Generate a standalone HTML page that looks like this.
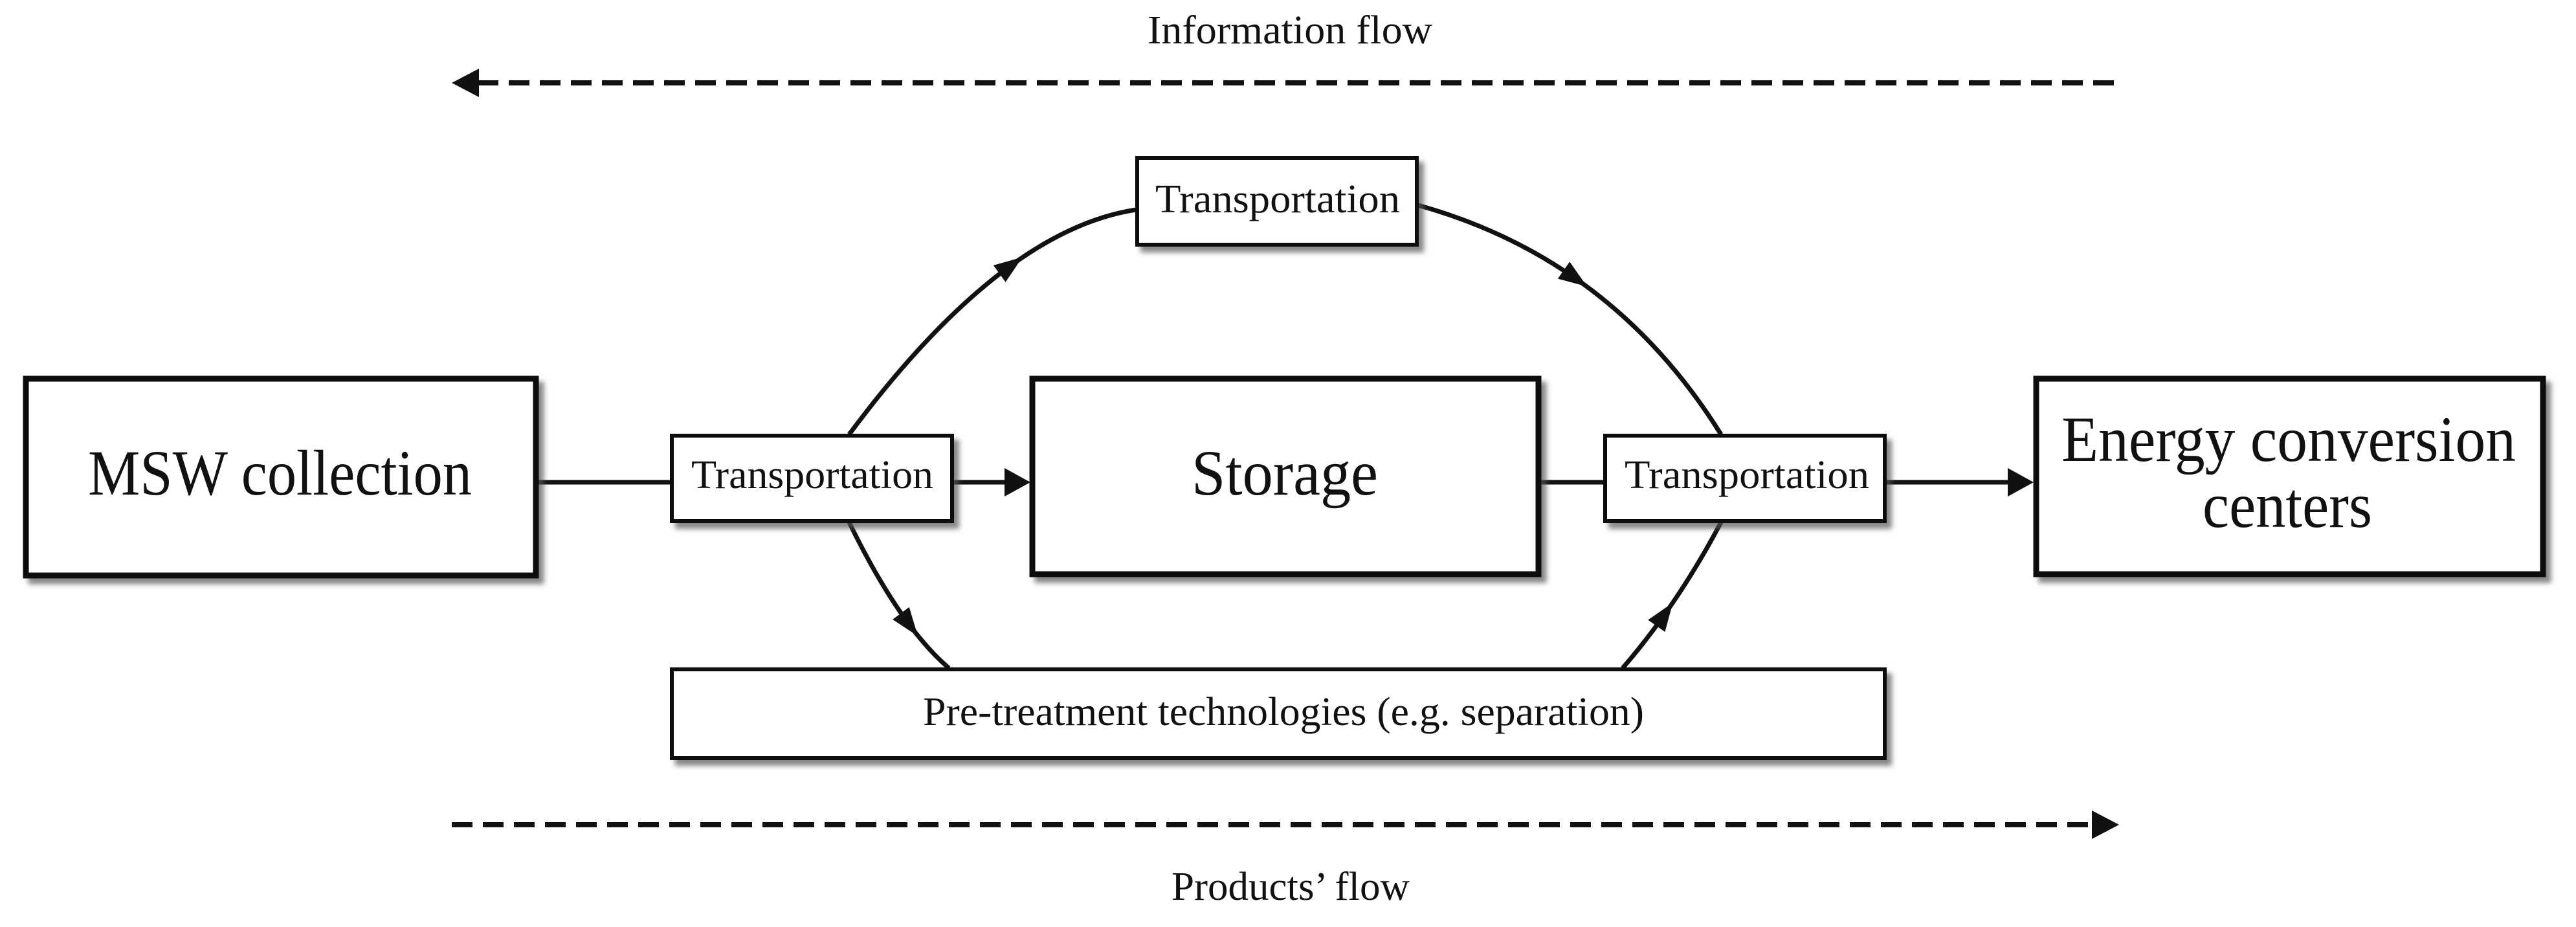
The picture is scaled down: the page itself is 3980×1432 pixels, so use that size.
<!DOCTYPE html>
<html><head><meta charset="utf-8"><style>
html,body{margin:0;padding:0;background:#fff;}
svg{display:block;}
text{font-family:"Liberation Serif",serif;fill:#111;}
</style></head><body>
<svg width="3980" height="1432" viewBox="0 0 3980 1432" xmlns="http://www.w3.org/2000/svg">
<defs>
<filter id="sh" x="-10%" y="-10%" width="130%" height="130%">
<feDropShadow dx="8" dy="9" stdDeviation="4" flood-color="#555" flood-opacity="0.7"/>
</filter>
<marker id="ah" markerUnits="userSpaceOnUse" viewBox="0 0 44 32" markerWidth="44" markerHeight="32" refX="22" refY="16" orient="auto">
<path d="M0 0 L44 16 L0 32 z" fill="#111"/>
</marker>
</defs>

<!-- Information flow -->
<text x="1773" y="67" font-size="62" textLength="440" lengthAdjust="spacingAndGlyphs">Information flow</text>
<line x1="738" y1="128" x2="3274" y2="128" stroke="#111" stroke-width="8" stroke-dasharray="32 16"/>
<polygon points="698,128 740,106 740,150" fill="#111"/>

<!-- connectors -->
<g stroke="#111" stroke-width="7" fill="none">
<line x1="830" y1="745" x2="1036" y2="745"/>
<line x1="1473" y1="745" x2="1560" y2="745"/>
<line x1="2379" y1="745" x2="2478" y2="745"/>
<line x1="2914" y1="745" x2="3110" y2="745"/>
<path d="M1312 671 Q1440.7 497.8 1562 410" marker-end="url(#ah)"/>
<path d="M1562 410 Q1661 338.4 1755 324"/>
<path d="M2191 317 Q2325.6 354.4 2434 430" marker-end="url(#ah)"/>
<path d="M2434 430 Q2566 522 2659 671"/>
<path d="M1312 807 Q1358.8 903 1405 965" marker-end="url(#ah)"/>
<path d="M1405 965 Q1435.6 1006 1466 1032"/>
<path d="M2507 1032 Q2541 992.8 2572 949" marker-end="url(#ah)"/>
<path d="M2572 949 Q2618.8 883 2659 807"/>
</g>
<g fill="#111">
<polygon points="1592,745 1552,723 1552,767"/>
<polygon points="3142,745 3102,723 3102,767"/>
</g>

<!-- big boxes -->
<g fill="#fff" stroke="#111" stroke-width="9" filter="url(#sh)">
<rect x="40" y="585" width="788" height="304"/>
<rect x="1595" y="585" width="782" height="302"/>
<rect x="3146" y="585" width="783" height="302"/>
</g>
<!-- small boxes -->
<g fill="#fff" stroke="#111" stroke-width="6" filter="url(#sh)">
<rect x="1038" y="673" width="433" height="132"/>
<rect x="2480" y="673" width="432" height="132"/>
<rect x="1757" y="244" width="432" height="134"/>
<rect x="1038" y="1034" width="1874" height="137"/>
</g>

<text x="136" y="764" font-size="100" textLength="593" lengthAdjust="spacingAndGlyphs">MSW collection</text>
<text x="1841" y="764" font-size="100" textLength="288" lengthAdjust="spacingAndGlyphs">Storage</text>
<text x="3185" y="712" font-size="100" textLength="702" lengthAdjust="spacingAndGlyphs">Energy conversion</text>
<text x="3403" y="814" font-size="100" textLength="262" lengthAdjust="spacingAndGlyphs">centers</text>
<text x="1068" y="754" font-size="62" textLength="374" lengthAdjust="spacingAndGlyphs">Transportation</text>
<text x="2510" y="754" font-size="62" textLength="378" lengthAdjust="spacingAndGlyphs">Transportation</text>
<text x="1785" y="328" font-size="62" textLength="378" lengthAdjust="spacingAndGlyphs">Transportation</text>
<text x="1426" y="1120" font-size="62" textLength="1114" lengthAdjust="spacingAndGlyphs">Pre-treatment technologies (e.g. separation)</text>

<!-- Products' flow -->
<line x1="698" y1="1274" x2="3234" y2="1274" stroke="#111" stroke-width="8" stroke-dasharray="32 16"/>
<polygon points="3274,1274 3232,1252 3232,1296" fill="#111"/>
<text x="1810" y="1390" font-size="62" textLength="368" lengthAdjust="spacingAndGlyphs">Products’ flow</text>
</svg>
</body></html>
